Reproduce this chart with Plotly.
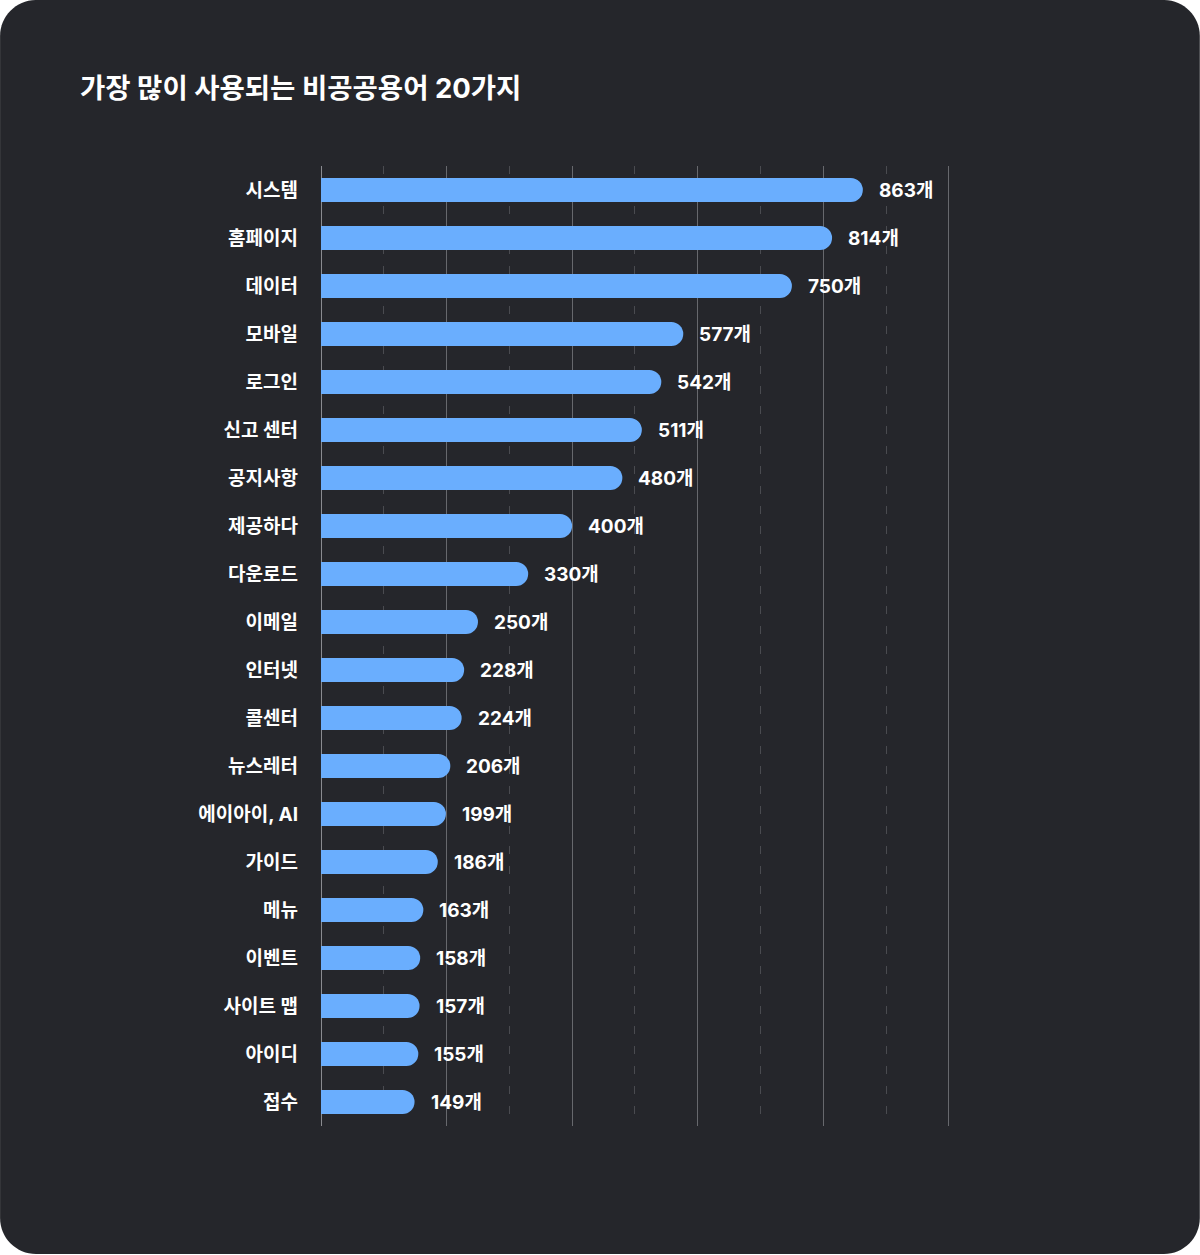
import plotly.graph_objects as go

categories = ["시스템", "홈페이지", "데이터", "모바일", "로그인", "신고 센터", "공지사항", "제공하다",
              "다운로드", "이메일", "인터넷", "콜센터", "뉴스레터", "에이아이, AI", "가이드", "메뉴",
              "이벤트", "사이트 맵", "아이디", "접수"]
counts = [863, 814, 750, 577, 542, 511, 480, 400, 330, 250, 228, 224, 206, 199, 186, 163, 158, 157, 155, 149]
unit = "개"
title_text = "가장 많이 사용되는 비공공용어 20가지"

FONT = "Inter, Noto Sans CJK KR, Noto Sans, sans-serif"
BG = "#25262b"
BAR = "#6aaefe"

W, H = 1200, 1255
XMAX = 1005
L, T, B = 321, 166, 1126
R = L + 0.628 * XMAX


def px(x):
    return (x - L) / (R - L)


def py(y):
    return (B - y) / (B - T)


# rounded card path (paper coords)
x0, x1, y0, y1, r = 0, 1200, 0, 1254, 36
k = 0.5523 * r
pts = [
    ("M", [(x0 + r, y0)]),
    ("L", [(x1 - r, y0)]),
    ("C", [(x1 - r + k, y0), (x1, y0 + r - k), (x1, y0 + r)]),
    ("L", [(x1, y1 - r)]),
    ("C", [(x1, y1 - r + k), (x1 - r + k, y1), (x1 - r, y1)]),
    ("L", [(x0 + r, y1)]),
    ("C", [(x0 + r - k, y1), (x0, y1 - r + k), (x0, y1 - r)]),
    ("L", [(x0, y0 + r)]),
    ("C", [(x0, y0 + r - k), (x0 + r - k, y0), (x0 + r, y0)]),
]
path = " ".join(cmd + " " + " ".join(f"{px(a):.5f},{py(b):.5f}" for a, b in p) for cmd, p in pts) + " Z"

fig = go.Figure()
fig.add_trace(go.Bar(
    x=counts, y=categories, orientation="h",
    width=0.5,
    marker=dict(color=BAR, line=dict(width=0), cornerradius=12),
    hoverinfo="skip",
))

annotations = [
    dict(x=v, y=c, xref="x", yref="y", text=f"{v}{unit}", showarrow=False,
         xanchor="left", yanchor="middle", xshift=14,
         font=dict(family=FONT, size=19, color="#ffffff", weight="bold"))
    for c, v in zip(categories, counts)
]

fig.update_layout(
    width=W, height=H,
    margin=dict(l=L, r=W - R, t=T, b=H - B, pad=0),
    paper_bgcolor="#ffffff",
    plot_bgcolor="rgba(0,0,0,0)",
    showlegend=False,
    bargap=0.5,
    title=dict(text=title_text, xref="container", yref="container",
               x=80 / W, y=1 - 88 / H, xanchor="left", yanchor="middle",
               font=dict(family=FONT, size=27.5, color="#ffffff", weight="bold")),
    shapes=[dict(type="path", xref="paper", yref="paper", path=path,
                 fillcolor=BG, line=dict(width=0), layer="below")],
    annotations=annotations,
    xaxis=dict(range=[0, XMAX], dtick=200, tick0=0, showticklabels=False,
               showgrid=True, gridcolor="#67686d", gridwidth=1,
               zeroline=True, zerolinecolor="#8a8b90", zerolinewidth=1,
               showline=False, ticks="",
               minor=dict(dtick=100, tick0=0, showgrid=True, gridcolor="#4a4b50",
                          griddash="8px,12px", gridwidth=1, ticks="")),
    yaxis=dict(categoryorder="array", categoryarray=categories, autorange="reversed",
               showgrid=False, zeroline=False, showline=False, ticks="",
               ticklabelstandoff=22,
               tickfont=dict(family=FONT, size=19, color="#ffffff", weight="bold")),
)

fig.write_html("out.html", config={"displayModeBar": False},
               post_script="document.body.style.margin='0';document.body.style.padding='0';")
